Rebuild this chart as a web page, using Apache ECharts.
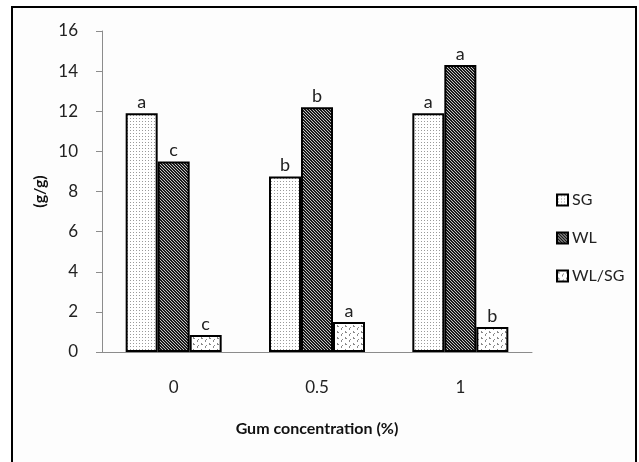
<!DOCTYPE html>
<html>
<head>
<meta charset="utf-8">
<script src="https://cdn.jsdelivr.net/npm/echarts@6/dist/echarts.min.js"></script>
<style>
html, body { margin: 0; padding: 0; background: #fff; }
#chart { width: 639px; height: 462px; }
</style>
</head>
<body>
<div id="chart"></div>
<script>
var categories = ['0', '0.5', '1'];
var sgValues = [11.9, 8.75, 11.9];
var wlValues = [9.5, 12.2, 14.3];
var ratioValues = [0.85, 1.5, 1.25];
var sgLetters = ['a', 'b', 'a'];
var wlLetters = ['c', 'b', 'a'];
var ratioLetters = ['c', 'a', 'b'];

// small tile patterns like the excel fills
function makeTile(w, h, draw) {
	var c = document.createElement('canvas');
	c.width = w; c.height = h;
	var ctx = c.getContext('2d');
	ctx.fillStyle = '#ffffff';
	ctx.fillRect(0, 0, w, h);
	draw(ctx);
	return { image: c, repeat: 'repeat' };
}
var dotFill = makeTile(3, 3, function (ctx) {
	ctx.fillStyle = '#9a9a9a';
	ctx.fillRect(1, 1, 1, 1);
});
var hatchFill = makeTile(3, 3, function (ctx) {
	ctx.fillStyle = '#c4c4c4';
	ctx.fillRect(0, 0, 3, 3);
	ctx.fillStyle = '#1a1a1a';
	for (var i = 0; i < 3; i++) {
		ctx.fillRect(i, i, 1, 1);
		ctx.fillRect((i + 1) % 3, i, 1, 1);
	}
});
var sparseFill = makeTile(8, 6, function (ctx) {
	ctx.fillStyle = '#8a8a8a';
	ctx.fillRect(1, 1, 1, 2);
	ctx.fillRect(2, 2, 1, 1);
	ctx.fillRect(5, 4, 1, 2);
	ctx.fillRect(6, 3, 1, 1);
});

function barSeries(name, values, letters, fill) {
	return {
		name: name,
		type: 'bar',
		data: values,
		barWidth: 32,
		barGap: '0%',
		itemStyle: {
			color: fill,
			borderColor: '#000',
			borderWidth: 2
		},
		label: {
			show: true,
			position: 'top',
			distance: 2,
			fontFamily: 'Lato',
			fontSize: 18,
			color: '#222',
			formatter: function (p) {
				return letters[p.dataIndex];
			}
		}
	};
}

var myChart = echarts.init(document.getElementById('chart'));
var option = {
	backgroundColor: '#ffffff',
	animation: false,
	graphic: [{
		type: 'rect',
		shape: { x: 12, y: 7, width: 624, height: 470 },
		style: { fill: '#fdfdfd', stroke: '#000', lineWidth: 2 },
		z: -10
	}],
	legend: {
		orient: 'vertical',
		left: 551,
		top: 187,
		itemWidth: 11,
		itemHeight: 11,
		itemGap: 22,
		itemStyle: { borderWidth: 2 },
		icon: 'rect',
		textStyle: { fontFamily: 'Lato', fontSize: 16, color: '#222', padding: [0, 0, 0, -1] },
		data: ['SG', 'WL', 'WL/SG']
	},
	grid: {
		left: 102,
		right: 107,
		top: 31,
		bottom: 110
	},
	xAxis: {
		type: 'category',
		data: categories,
		name: 'Gum concentration (%)',
		nameLocation: 'middle',
		nameGap: 69,
		nameTextStyle: { fontFamily: 'Lato', fontSize: 16, fontWeight: 'bold', color: '#111' },
		axisLine: { lineStyle: { color: '#8c8c8c', width: 1 } },
		axisTick: { show: false },
		axisLabel: { margin: 27, fontFamily: 'Lato', fontSize: 17, color: '#222' }
	},
	yAxis: {
		type: 'value',
		min: 0,
		max: 16,
		interval: 2,
		name: '(g/g)',
		nameLocation: 'middle',
		nameGap: 51,
		nameTextStyle: { fontFamily: 'Lato', fontSize: 16, fontWeight: 'bold', color: '#111' },
		axisLine: { show: true, lineStyle: { color: '#8c8c8c', width: 1 } },
		axisTick: { show: true, inside: false, length: 6, lineStyle: { color: '#8c8c8c' } },
		splitLine: { show: false },
		axisLabel: { margin: 24, fontFamily: 'Lato', fontSize: 17, color: '#222' }
	},
	series: [
		barSeries('SG', sgValues, sgLetters, dotFill),
		barSeries('WL', wlValues, wlLetters, hatchFill),
		barSeries('WL/SG', ratioValues, ratioLetters, sparseFill)
	]
};
myChart.setOption(option);
</script>
</body>
</html>
